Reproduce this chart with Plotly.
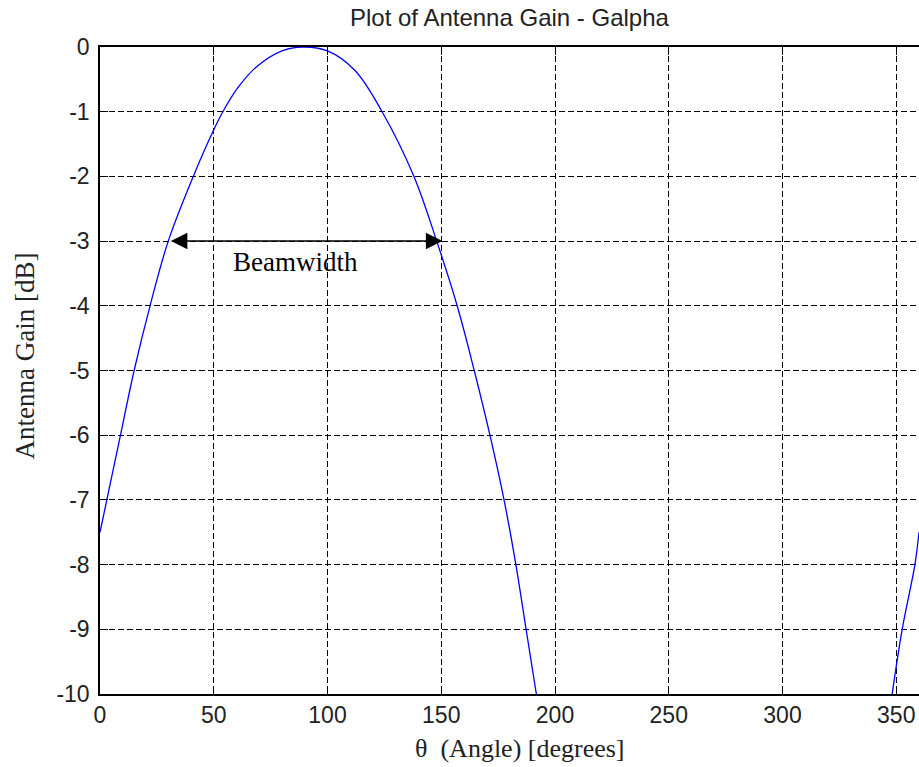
import plotly.graph_objects as go

# Data
theta_deg = [0, 9, 15, 22, 30, 41, 50, 54, 61, 69, 80, 89, 100, 112, 124, 138, 148,
             157, 164.5, 171.4, 177.6, 182.8, 187.3, 191.8, None, 348.2, 352.6, 358.2, 360]
gain_db = [-7.5, -6.0, -5.0, -4.0, -3.0, -2.0, -1.28, -1.0, -0.61, -0.30, -0.06, 0.0,
           -0.06, -0.36, -1.0, -2.0, -3.0, -4.0, -5.0, -6.0, -7.0, -8.0, -9.0, -10.0, None,
           -10.0, -9.0, -8.0, -7.5]

x_ticks = [0, 50, 100, 150, 200, 250, 300, 350]
x_labels = [str(v) for v in x_ticks]
y_ticks = [0, -1, -2, -3, -4, -5, -6, -7, -8, -9, -10]
y_labels = [str(v) for v in y_ticks]

beam_left = 30.5
beam_right = 150.5
beam_level = -3

title_text = "Plot of Antenna Gain - Galpha"
x_title = "θ  (Angle) [degrees]"
y_title = "Antenna Gain [dB]"
beam_text = "Beamwidth"

SANS = "Liberation Sans, Arial, sans-serif"
SERIF = "Liberation Serif, Times New Roman, serif"

fig = go.Figure()
fig.add_trace(go.Scatter(
    x=theta_deg, y=gain_db, mode="lines",
    line=dict(color="#0000FF", width=1.3, shape="spline", smoothing=1.0),
    connectgaps=False, showlegend=False, hoverinfo="skip",
))
# dummy trace for the top axis
fig.add_trace(go.Scatter(x=[None], y=[None], xaxis="x2", yaxis="y",
                         showlegend=False, hoverinfo="skip"))

common_axis = dict(
    showline=True, linecolor="black", linewidth=1.5,
    ticks="inside", ticklen=8, tickcolor="black", tickwidth=1.2,
    zeroline=False,
)

fig.update_layout(
    width=919, height=767,
    margin=dict(l=100, r=0, t=47, b=73),
    paper_bgcolor="white", plot_bgcolor="white",
    xaxis=dict(
        range=[0, 360], tickvals=x_ticks, ticktext=x_labels,
        showgrid=True, gridcolor="black", gridwidth=1.4, griddash="6px,3px",
        tickfont=dict(family=SANS, size=23, color="#222"),
        **common_axis,
    ),
    xaxis2=dict(
        range=[0, 360], overlaying="x", side="top", tickvals=x_ticks,
        showticklabels=False, showgrid=False, **common_axis,
    ),
    yaxis=dict(
        range=[-10, 0], tickvals=y_ticks, ticktext=y_labels,
        showgrid=True, gridcolor="black", gridwidth=1.4, griddash="6px,3px",
        tickfont=dict(family=SANS, size=23, color="#222"),
        ticklabelstandoff=4,
        **common_axis,
    ),
    annotations=[
        dict(text=title_text, xref="paper", yref="paper", x=0.5, y=1, yshift=14,
             xanchor="center", yanchor="bottom", showarrow=False,
             font=dict(family=SANS, size=24, color="#222")),
        dict(text=x_title, xref="paper", yref="paper", x=0.5, y=0, yshift=-38,
             xanchor="center", yanchor="top", showarrow=False, xshift=10,
             font=dict(family=SERIF, size=26, color="#222")),
        dict(text=y_title, xref="paper", yref="paper", x=0, y=0.5, xshift=-76,
             xanchor="center", yanchor="middle", showarrow=False, textangle=-90,
             yshift=14,
             font=dict(family=SERIF, size=27, color="#222")),
        dict(text=beam_text, x=(beam_left + beam_right) / 2 - 4.5, y=beam_level - 0.33,
             xref="x", yref="y", showarrow=False, xanchor="center", yanchor="middle",
             font=dict(family=SERIF, size=27, color="black")),
        dict(text="", x=beam_right, y=beam_level, ax=beam_left, ay=beam_level,
             xref="x", yref="y", axref="x", ayref="y", showarrow=True,
             arrowhead=2, startarrowhead=2, arrowside="end+start",
             arrowsize=2.2, startarrowsize=2.2, arrowwidth=1.5, arrowcolor="black",
             standoff=0, startstandoff=0),
    ],
)

fig.write_html("out.html")
